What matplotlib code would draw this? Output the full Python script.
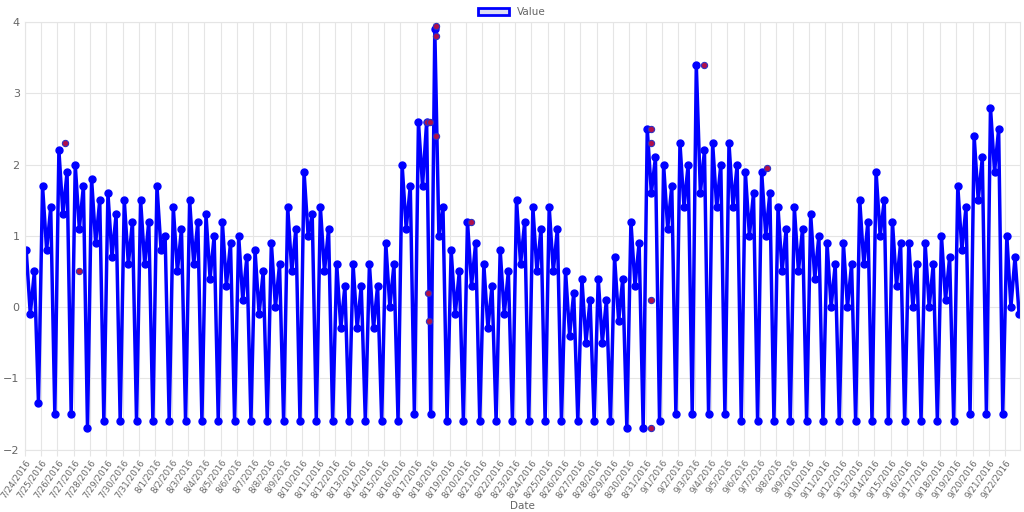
import matplotlib
matplotlib.use("Agg")
import matplotlib.pyplot as plt
from matplotlib.patches import Patch
import datetime as dt

dates = [(dt.date(2016, 7, 24) + dt.timedelta(days=i)) for i in range(61)]
date_labels = [f"{d.month}/{d.day}/{d.year}" for d in dates]

high1 = [0.8,1.7,2.2,2.0,1.8,1.6,1.5,1.5,1.7,1.4,1.5,1.3,1.2,1.0,0.8,0.9,1.4,1.9,1.4,0.6,
         0.6,0.6,0.9,2.0,2.6,3.9,0.8,1.2,0.6,0.8,1.5,1.4,1.4,0.5,0.4,0.4,0.7,1.2,2.5,2.0,
         2.3,3.4,2.3,2.3,1.9,1.9,1.4,1.4,1.3,0.9,0.9,1.5,1.9,1.2,0.9,0.9,1.0,1.7,2.4,2.8,1.0]
mid_low = [-0.1,0.8,1.3,1.1,0.9,0.7,0.6,0.6,0.8,0.5,0.6,0.4,0.3,0.1,-0.1,0.0,0.5,1.0,0.5,-0.3,
           -0.3,-0.3,0.0,1.1,1.7,1.0,-0.1,0.3,-0.3,-0.1,0.6,0.5,0.5,-0.4,-0.5,-0.5,-0.2,0.3,1.6,1.1,
           1.4,1.6,1.4,1.4,1.0,1.0,0.5,0.5,0.4,0.0,0.0,0.6,1.0,0.3,0.0,0.0,0.1,0.8,1.5,1.9,0.0]
high2 = [0.5,1.4,1.9,1.7,1.5,1.3,1.2,1.2,1.0,1.1,1.2,1.0,0.9,0.7,0.5,0.6,1.1,1.3,1.1,0.3,
         0.3,0.3,0.6,1.7,2.6,1.4,0.5,0.9,0.3,0.5,1.2,1.1,1.1,0.2,0.1,0.1,0.4,0.9,2.1,1.7,
         2.0,2.2,2.0,2.0,1.6,1.6,1.1,1.1,1.0,0.6,0.6,1.2,1.5,0.9,0.6,0.6,0.7,1.4,2.1,2.5,0.7]
low = [-1.35,-1.5,-1.5,-1.7,-1.6,-1.6,-1.6,-1.6,-1.6,-1.6,-1.6,-1.6,-1.6,-1.6,-1.6,-1.6,-1.6,-1.6,-1.6,-1.6,
       -1.6,-1.6,-1.6,-1.5,-1.5,-1.6,-1.6,-1.6,-1.6,-1.6,-1.6,-1.6,-1.6,-1.6,-1.6,-1.6,-1.7,-1.7,-1.6,-1.5,
       -1.5,-1.5,-1.5,-1.6,-1.6,-1.6,-1.6,-1.6,-1.6,-1.6,-1.6,-1.6,-1.6,-1.6,-1.6,-1.6,-1.6,-1.5,-1.5,-1.5,-0.1]
red_x = [2.5, 3.3, 24.6, 24.8, 24.7, 24.75, 25.2, 25.2, 25.2, 27.3, 38.3, 38.3, 38.3, 38.35, 41.6, 45.4]
red_y = [2.3, 0.5, 2.6, 2.6, 0.2, -0.2, 3.95, 3.8, 2.4, 1.2, 2.5, 2.3, -1.7, 0.1, 3.4, 1.95]

xs, ys = [], []
for i in range(len(dates)):
    for off, v in ((0.1, high1[i]), (0.35, mid_low[i]), (0.6, high2[i]), (0.85, low[i])):
        xs.append(i + off); ys.append(v)

fig, ax = plt.subplots(figsize=(10.24, 5.12), dpi=100)
fig.subplots_adjust(left=0.024, right=0.996, top=0.957, bottom=0.122)
ax.plot(xs, ys, color="#0000ff", lw=2.5, marker="o", ms=5, mfc="#0000ff", mec="#0000ff")
ax.plot(red_x, red_y, "o", ms=4.5, mfc="#b0104a", mec="#3030c0", mew=0.8, zorder=3)
ax.set_xlim(0, 60.9)
ax.set_ylim(-2, 4)
ax.set_xticks(range(len(dates)))
ax.set_xticklabels(date_labels, rotation=55, ha="right", rotation_mode="anchor",
                   fontsize=6.3, color="#666666")
ax.set_yticks(range(-2, 5))
ax.tick_params(axis="y", labelsize=8, colors="#666666", length=0)
ax.tick_params(axis="x", length=4, color="#e5e5e5", pad=2)
ax.grid(True, color="#e5e5e5", lw=0.8)
for s in ax.spines.values():
    s.set_color("#e5e5e5")
ax.set_xlabel("Date", fontsize=7.5, color="#666666", labelpad=1)
fig.legend(handles=[Patch(facecolor="#dcdcf5", edgecolor="#0000ff", lw=2, label="Value")],
           loc="upper center", bbox_to_anchor=(0.5, 1.005), frameon=False, fontsize=7.5,
           handlelength=3, labelcolor="#666666")
fig.savefig("out.png", dpi=100)
